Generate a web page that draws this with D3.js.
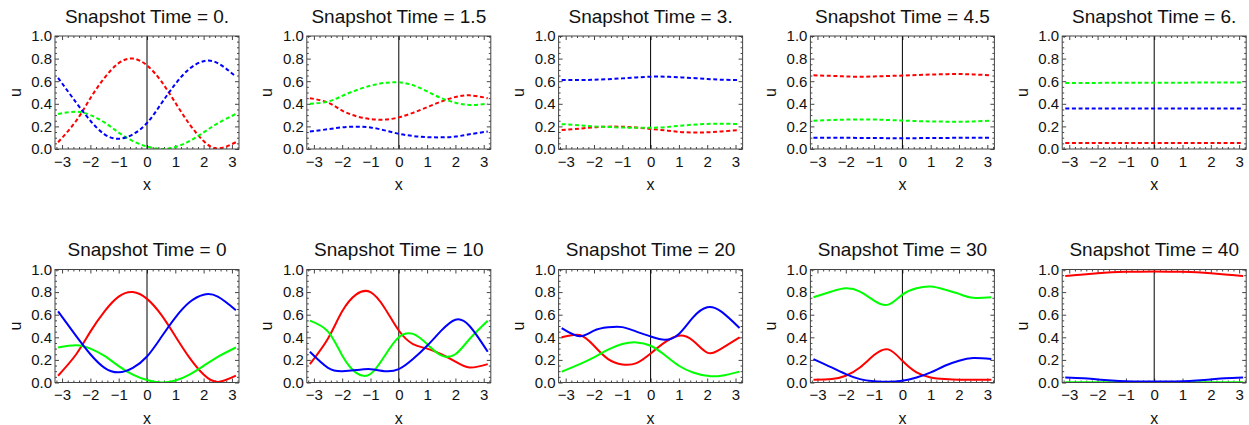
<!DOCTYPE html>
<html>
<head>
<meta charset="utf-8">
<script src="https://cdn.jsdelivr.net/npm/d3@7"></script>
<style>
    body { margin: 0; background: #fff; }
    svg { display: block; font-family: 'Liberation Sans', Arial, sans-serif; }
</style>
</head>
<body>
<svg id="chart" width="1249" height="425"></svg>
<script>
// sample positions along x (shared by every curve)
const xs = [-Math.PI, -2.5, -2, -1.5, -1, -0.5, 0, 0.5, 1, 1.5, 2, 2.5, Math.PI];

const topTimes = ['0.', '1.5', '3.', '4.5', '6.'];
const bottomTimes = ['0', '10', '20', '30', '40'];

// snapshot t = 0 (same in both rows)
const red0 = [0.06, 0.25, 0.45, 0.63, 0.76, 0.80, 0.74, 0.60, 0.41, 0.22, 0.07, 0.005, 0.06];
const green0 = [0.31, 0.33, 0.30, 0.235, 0.145, 0.07, 0.022, 0.0, 0.017, 0.07, 0.147, 0.227, 0.31];
const blue0 = [0.63, 0.41, 0.25, 0.13, 0.09, 0.13, 0.23, 0.40, 0.575, 0.71, 0.777, 0.76, 0.64];

// top row: dashed curves
const redTop = [
    red0,
    [0.45, 0.41, 0.34, 0.29, 0.265, 0.26, 0.28, 0.32, 0.37, 0.42, 0.46, 0.475, 0.45],
    [0.168, 0.18, 0.192, 0.198, 0.197, 0.19, 0.178, 0.165, 0.152, 0.146, 0.148, 0.155, 0.168],
    [0.652, 0.647, 0.642, 0.64, 0.642, 0.646, 0.65, 0.655, 0.659, 0.662, 0.663, 0.66, 0.652],
    [0.052, 0.052, 0.052, 0.052, 0.052, 0.052, 0.052, 0.052, 0.052, 0.052, 0.052, 0.052, 0.052]
];
const greenTop = [
    green0,
    [0.40, 0.42, 0.47, 0.52, 0.56, 0.585, 0.59, 0.565, 0.51, 0.45, 0.41, 0.39, 0.40],
    [0.22, 0.21, 0.20, 0.195, 0.19, 0.188, 0.188, 0.193, 0.205, 0.215, 0.222, 0.224, 0.22],
    [0.25, 0.256, 0.26, 0.262, 0.261, 0.257, 0.252, 0.247, 0.244, 0.242, 0.241, 0.244, 0.25],
    [0.585, 0.585, 0.585, 0.586, 0.586, 0.586, 0.587, 0.587, 0.587, 0.588, 0.588, 0.588, 0.588]
];
const blueTop = [
    blue0,
    [0.155, 0.175, 0.192, 0.197, 0.19, 0.165, 0.135, 0.115, 0.105, 0.103, 0.11, 0.13, 0.155],
    [0.61, 0.61, 0.613, 0.618, 0.625, 0.633, 0.64, 0.64, 0.635, 0.628, 0.62, 0.613, 0.61],
    [0.10, 0.10, 0.099, 0.098, 0.097, 0.096, 0.095, 0.096, 0.097, 0.098, 0.099, 0.10, 0.10],
    [0.358, 0.358, 0.358, 0.358, 0.358, 0.358, 0.358, 0.358, 0.358, 0.358, 0.358, 0.358, 0.358]
];

// bottom row: solid curves
const redBottom = [
    red0,
    [0.163, 0.39, 0.63, 0.78, 0.80, 0.66, 0.46, 0.34, 0.30, 0.25, 0.185, 0.133, 0.163],
    [0.40, 0.42, 0.325, 0.207, 0.16, 0.172, 0.257, 0.355, 0.414, 0.37, 0.265, 0.30, 0.40],
    [0.024, 0.03, 0.06, 0.133, 0.243, 0.293, 0.192, 0.089, 0.044, 0.03, 0.024, 0.024, 0.024],
    [0.943, 0.955, 0.967, 0.975, 0.979, 0.981, 0.982, 0.981, 0.979, 0.975, 0.967, 0.955, 0.943]
];
const greenBottom = [
    green0,
    [0.547, 0.45, 0.24, 0.085, 0.075, 0.235, 0.40, 0.43, 0.34, 0.24, 0.25, 0.385, 0.547],
    [0.096, 0.163, 0.222, 0.29, 0.34, 0.355, 0.325, 0.243, 0.148, 0.089, 0.059, 0.059, 0.096],
    [0.754, 0.805, 0.834, 0.805, 0.725, 0.689, 0.778, 0.834, 0.849, 0.822, 0.784, 0.749, 0.754],
    [0.003, 0.003, 0.003, 0.003, 0.003, 0.003, 0.003, 0.003, 0.003, 0.003, 0.003, 0.003, 0.003]
];
const blueBottom = [
    blue0,
    [0.272, 0.13, 0.10, 0.11, 0.118, 0.10, 0.118, 0.207, 0.325, 0.459, 0.556, 0.50, 0.272],
    [0.482, 0.41, 0.459, 0.488, 0.49, 0.45, 0.408, 0.379, 0.43, 0.577, 0.666, 0.627, 0.482],
    [0.207, 0.133, 0.074, 0.03, 0.012, 0.006, 0.015, 0.044, 0.089, 0.148, 0.192, 0.216, 0.207],
    [0.045, 0.038, 0.027, 0.018, 0.012, 0.009, 0.008, 0.009, 0.012, 0.018, 0.027, 0.038, 0.045]
];

const COLORS = ['#ff0000', '#00ff00', '#0000ff'];
const PANEL_LEFT = 55;
const PANEL_STEP = 251.8;
const PLOT_W = 184;
const PLOT_H = 113;
const ROW_TOP = [36, 269.5];
const TICK_FONT = 15;

const svg = d3.select('#chart');

const x = d3.scaleLinear().domain([-3.25, 3.25]).range([0, PLOT_W]);
const y = d3.scaleLinear().domain([0, 1]).range([PLOT_H, 0]);

const xMajor = d3.range(-3, 4, 1);
const xMinor = d3.range(-3.2, 3.21, 0.2).filter((v) => Math.abs(v - Math.round(v)) > 1e-6);
const yMajor = d3.range(0, 1.01, 0.2);
const yMinor = d3.range(0, 1.001, 0.05).filter((v) => Math.abs(v * 5 - Math.round(v * 5)) > 1e-6);

function drawPanel(g, title, series, dashed) {
    // ticks on all four sides, pointing inward
    const addAxis = (axis, transform) => {
        const a = g.append('g').attr('transform', transform).call(axis);
        a.select('.domain').remove();
        a.selectAll('line').attr('stroke', '#444');
        a.attr('font-size', TICK_FONT).attr('font-family', null);
        a.selectAll('text').attr('fill', '#111');
        return a;
    };

    addAxis(
        d3.axisBottom(x).tickValues(xMajor).tickSize(-4).tickPadding(7).tickFormat(d3.format('d')),
        `translate(0,${PLOT_H})`
    );
    addAxis(d3.axisBottom(x).tickValues(xMinor).tickSize(-2).tickFormat(''), `translate(0,${PLOT_H})`);
    addAxis(d3.axisTop(x).tickValues(xMajor).tickSize(-4).tickFormat(''), 'translate(0,0)');
    addAxis(d3.axisTop(x).tickValues(xMinor).tickSize(-2).tickFormat(''), 'translate(0,0)');

    addAxis(
        d3.axisLeft(y).tickValues(yMajor).tickSize(-4).tickPadding(3).tickFormat(d3.format('.1f')),
        'translate(0,0)'
    );
    addAxis(d3.axisLeft(y).tickValues(yMinor).tickSize(-2).tickFormat(''), 'translate(0,0)');
    addAxis(d3.axisRight(y).tickValues(yMajor).tickSize(-4).tickFormat(''), `translate(${PLOT_W},0)`);
    addAxis(d3.axisRight(y).tickValues(yMinor).tickSize(-2).tickFormat(''), `translate(${PLOT_W},0)`);

    // vertical axis at x = 0
    g.append('line')
        .attr('x1', x(0)).attr('x2', x(0))
        .attr('y1', 0).attr('y2', PLOT_H)
        .attr('stroke', '#000')
        .attr('stroke-width', 1);

    const clipId = 'clip' + Math.random().toString(36).slice(2);
    g.append('clipPath').attr('id', clipId)
        .append('rect').attr('width', PLOT_W).attr('height', PLOT_H);

    const line = d3.line()
        .x((d) => x(d[0]))
        .y((d) => y(d[1]))
        .curve(d3.curveNatural);

    const curves = g.append('g').attr('clip-path', `url(#${clipId})`);
    series.forEach((values, i) => {
        curves.append('path')
            .datum(xs.map((xv, k) => [xv, values[k]]))
            .attr('d', line)
            .attr('fill', 'none')
            .attr('stroke', COLORS[i])
            .attr('stroke-width', 2)
            .attr('stroke-dasharray', dashed ? '4,2.6' : null);
    });

    g.append('rect')
        .attr('width', PLOT_W).attr('height', PLOT_H)
        .attr('fill', 'none')
        .attr('stroke', '#444')
        .attr('stroke-width', 1);

    g.append('text')
        .attr('x', PLOT_W / 2).attr('y', -13.5)
        .attr('text-anchor', 'middle')
        .attr('font-size', 19)
        .attr('fill', '#111')
        .text('Snapshot Time = ' + title);

    g.append('text')
        .attr('x', PLOT_W / 2).attr('y', PLOT_H + 41)
        .attr('text-anchor', 'middle')
        .attr('font-size', 16)
        .attr('fill', '#111')
        .text('x');

    g.append('text')
        .attr('transform', `translate(-40,${PLOT_H / 2}) rotate(-90)`)
        .attr('text-anchor', 'middle')
        .attr('dy', '0.35em')
        .attr('font-size', 16)
        .attr('fill', '#111')
        .text('u');
}

topTimes.forEach((t, i) => {
    const g = svg.append('g')
        .attr('transform', `translate(${PANEL_LEFT + i * PANEL_STEP},${ROW_TOP[0]})`);
    drawPanel(g, t, [redTop[i], greenTop[i], blueTop[i]], true);
});

bottomTimes.forEach((t, i) => {
    const g = svg.append('g')
        .attr('transform', `translate(${PANEL_LEFT + i * PANEL_STEP},${ROW_TOP[1]})`);
    drawPanel(g, t, [redBottom[i], greenBottom[i], blueBottom[i]], false);
});
</script>
</body>
</html>
